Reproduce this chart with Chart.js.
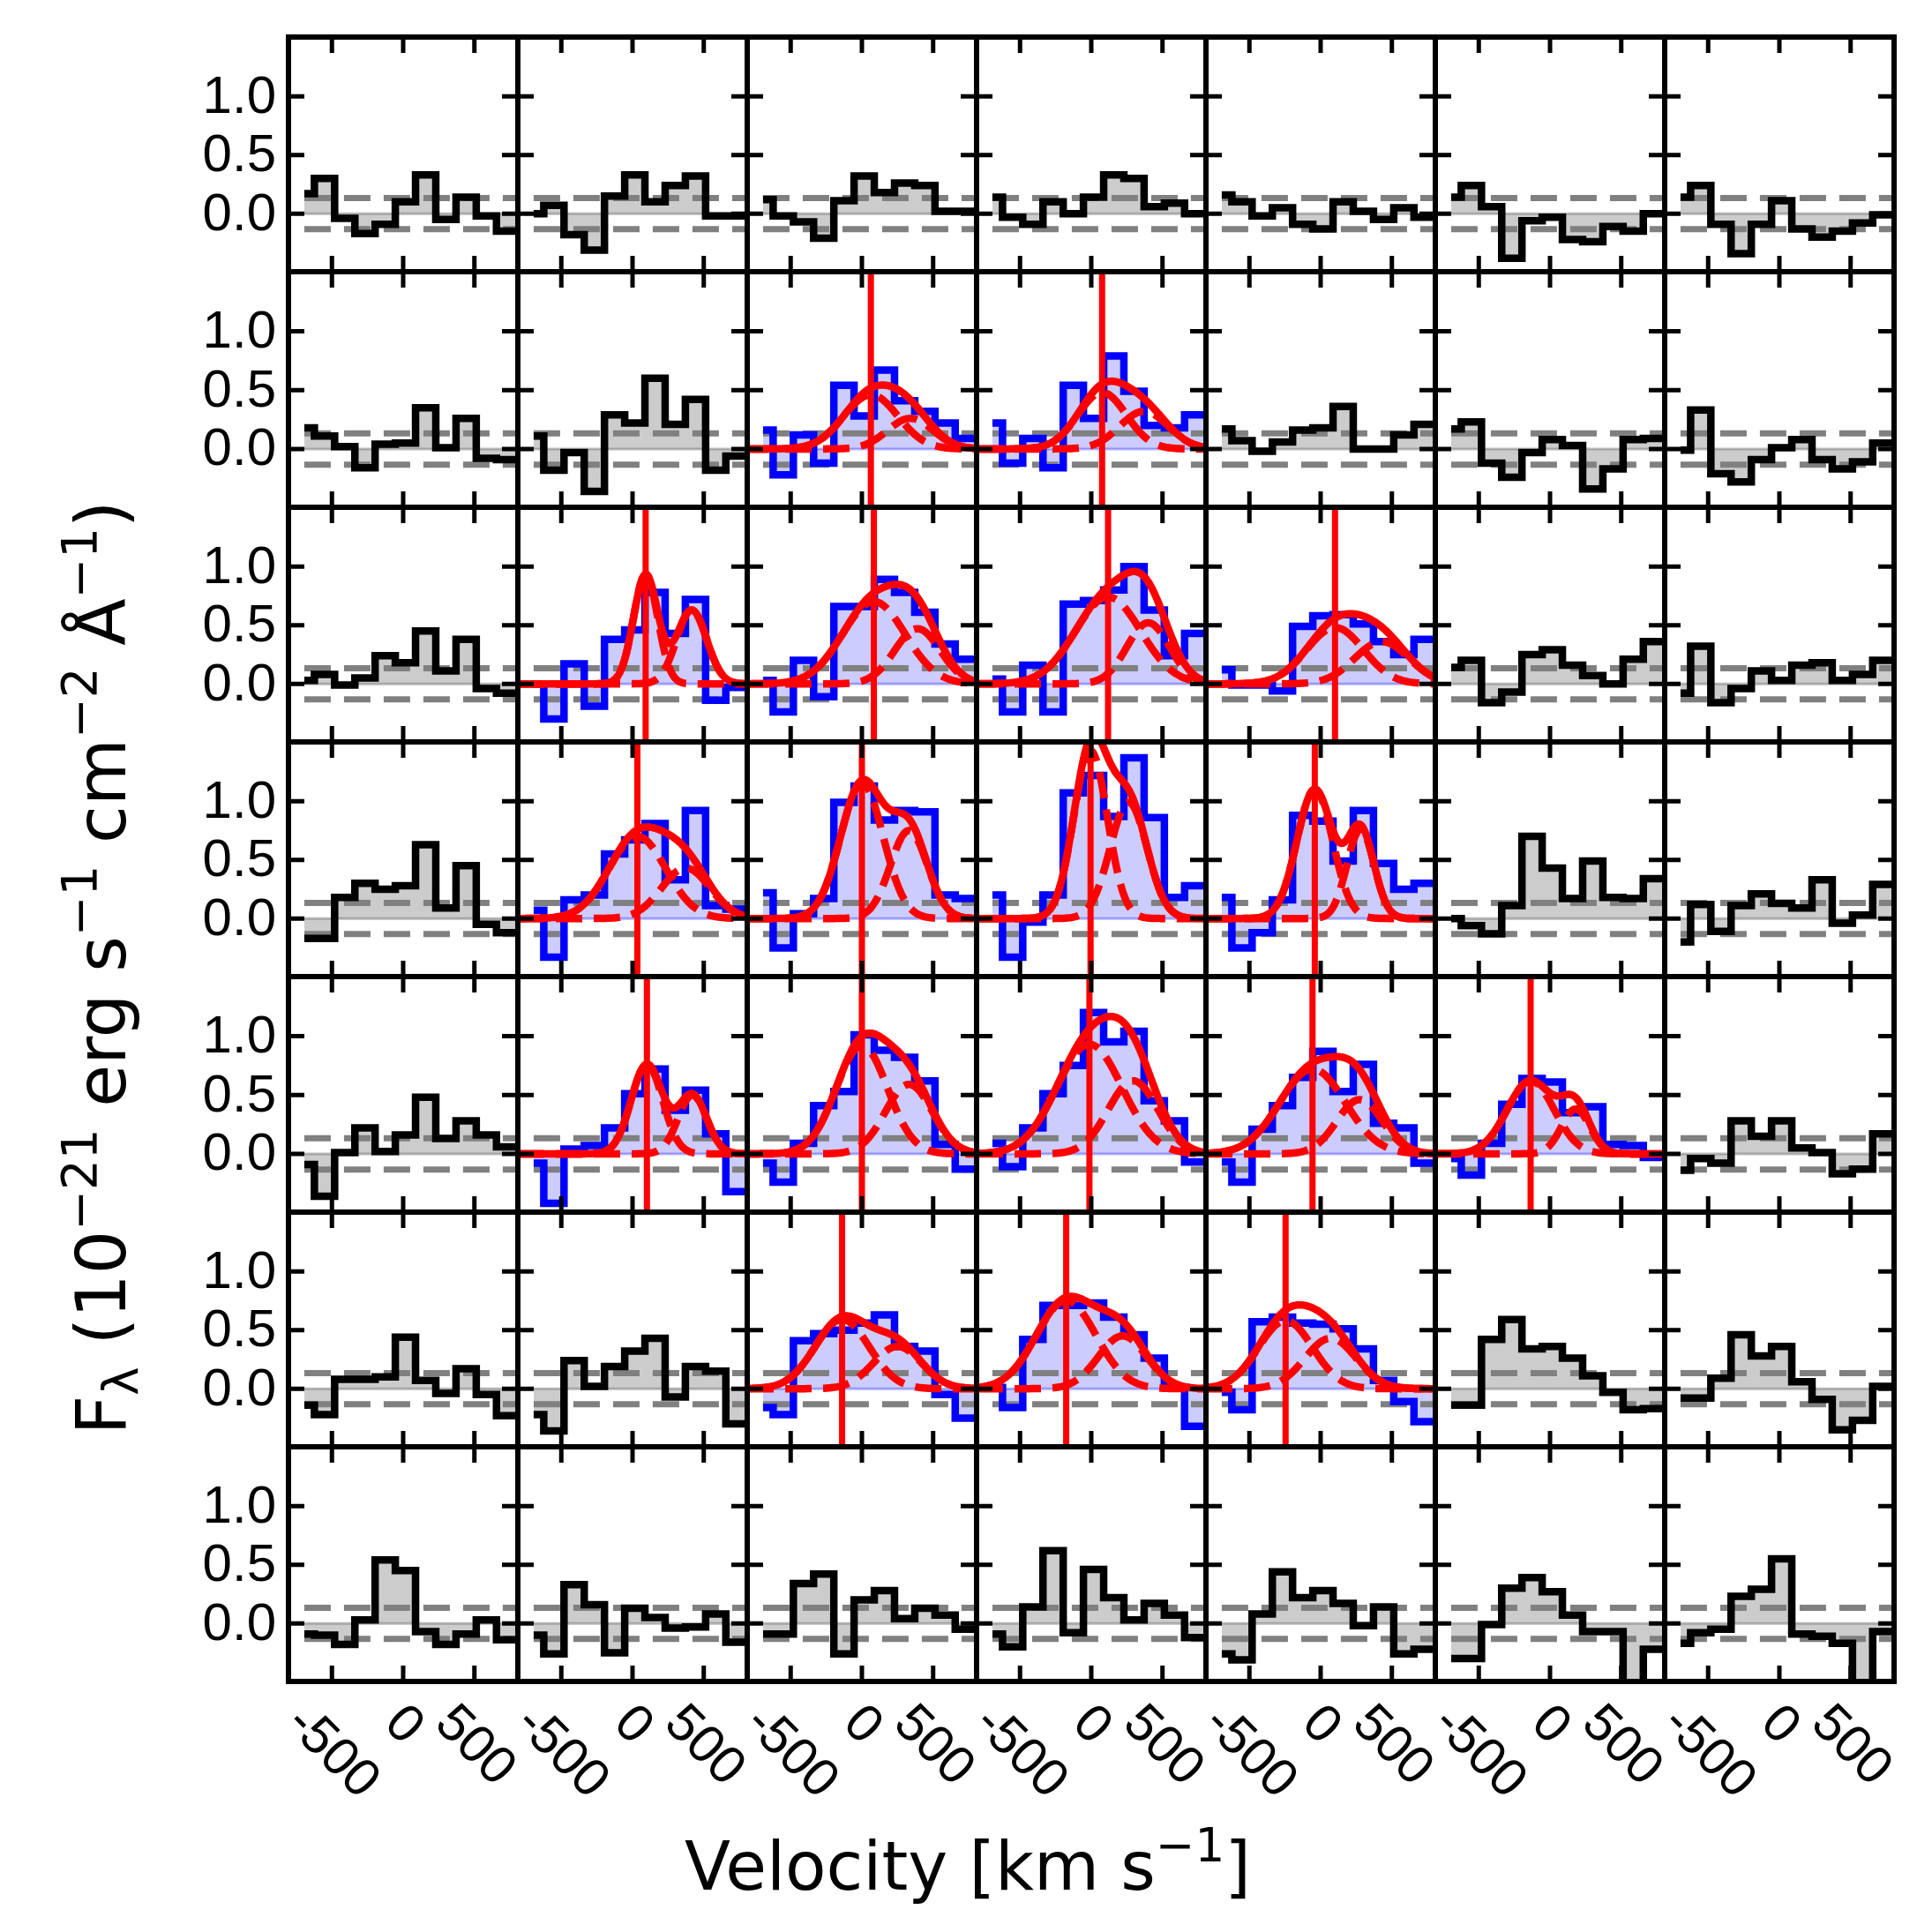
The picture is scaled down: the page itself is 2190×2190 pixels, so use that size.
<!DOCTYPE html>
<html>
<head>
<meta charset="utf-8">
<script src="https://cdn.jsdelivr.net/npm/chart.js@4.4.0/dist/chart.umd.min.js"></script>
<style>
  body { margin: 0; background: #fff; }
  #fig { position: relative; width: 2190px; height: 2190px; background: #fff; overflow: hidden; }
  #fig canvas { position: absolute; }
  .label { position: absolute; font-family: 'DejaVu Sans', sans-serif; color: #000; white-space: nowrap; line-height: 1; }
  .label sup { font-size: 70%; vertical-align: 0.6em; line-height: 0; }
  .label sub { font-size: 70%; vertical-align: -0.25em; line-height: 0; }
  #xlabel { left: 1097px; top: 2078px; font-size: 76px; transform: translateX(-50%); }
  #ylabel { left: 115px; top: 1097px; font-size: 78px; transform: translate(-50%, -50%) rotate(-90deg); }
</style>
</head>
<body>
<div id="fig">
  <div class="label" id="xlabel">Velocity [km s<sup>−1</sup>]</div>
  <div class="label" id="ylabel">F<sub>λ</sub> (10<sup>−21</sup> erg s<sup>−1</sup> cm<sup>−2</sup> Å<sup>−1</sup>)</div>
</div>
<script>
// velocity bin centres (km/s), shared by every spaxel
const velocity = [-694, -552, -410, -268, -126, 16, 158, 300, 442, 584, 726, 868];
const xTicks = [-500, 0, 500];
const yTicks = [0.0, 0.5, 1.0];
const noiseLevel = 0.133;

// flux per spaxel, one array per row of the grid (left to right)
const fluxRow1 = [
  [0.17, 0.30, -0.04, -0.17, -0.09, 0.10, 0.33, -0.05, 0.14, -0.02, -0.15, -0.15],
  [0.00, 0.07, -0.18, -0.31, 0.15, 0.33, 0.10, 0.24, 0.32, -0.02, -0.02, -0.02],
  [0.12, -0.02, -0.07, -0.21, 0.11, 0.32, 0.18, 0.26, 0.24, 0.02, 0.02, 0.02],
  [0.14, -0.03, -0.09, 0.10, 0.00, 0.14, 0.33, 0.30, 0.06, 0.09, 0.00, 0.00],
  [0.16, 0.10, -0.02, 0.05, -0.09, -0.13, 0.10, 0.02, -0.05, 0.05, -0.03, -0.03],
  [0.14, 0.24, 0.06, -0.38, -0.06, -0.03, -0.22, -0.24, -0.11, -0.15, 0.00, 0.00],
  [0.14, 0.24, -0.09, -0.34, -0.09, 0.11, -0.13, -0.20, -0.15, -0.08, -0.01, -0.01]
];
const fluxRow2 = [
  [0.18, 0.11, 0.02, -0.16, 0.04, 0.05, 0.35, 0.01, 0.26, -0.08, -0.09, -0.09],
  [0.11, -0.18, -0.03, -0.36, 0.29, 0.22, 0.60, 0.21, 0.42, -0.18, -0.06, -0.06],
  [0.16, -0.22, 0.12, -0.12, 0.54, 0.28, 0.67, 0.41, 0.32, 0.22, 0.09, 0.09],
  [0.22, -0.12, 0.09, -0.16, 0.54, 0.26, 0.79, 0.49, 0.20, 0.18, 0.29, 0.29],
  [0.17, 0.07, -0.02, 0.06, 0.16, 0.18, 0.36, 0.00, 0.00, 0.12, 0.21, 0.21],
  [0.17, 0.23, -0.12, -0.24, -0.03, 0.08, 0.03, -0.34, -0.17, 0.08, 0.09, 0.09],
  [-0.01, 0.33, -0.21, -0.28, -0.09, 0.01, 0.08, -0.09, -0.17, -0.11, 0.05, 0.05]
];
const fluxRow3 = [
  [0.03, 0.08, -0.01, 0.05, 0.24, 0.18, 0.45, 0.11, 0.38, -0.04, -0.08, -0.08],
  [0.00, -0.30, 0.17, -0.19, 0.38, 0.46, 0.78, 0.43, 0.72, -0.14, -0.03, -0.03],
  [0.03, -0.24, 0.20, -0.11, 0.66, 0.66, 0.89, 0.78, 0.61, 0.34, 0.21, 0.21],
  [0.04, -0.24, 0.16, -0.24, 0.68, 0.71, 0.80, 1.00, 0.63, 0.24, 0.43, 0.43],
  [0.12, -0.01, -0.01, -0.06, 0.49, 0.58, 0.59, 0.51, 0.36, 0.25, 0.38, 0.38],
  [0.14, 0.20, -0.16, -0.07, 0.25, 0.29, 0.16, 0.07, 0.00, 0.21, 0.36, 0.36],
  [-0.08, 0.32, -0.16, -0.04, 0.11, 0.03, 0.16, 0.18, 0.03, 0.08, 0.20, 0.20]
];
const fluxRow4 = [
  [-0.17, -0.17, 0.18, 0.30, 0.25, 0.28, 0.63, 0.09, 0.45, -0.05, -0.12, -0.12],
  [0.07, -0.33, 0.16, 0.20, 0.55, 0.67, 0.81, 0.33, 0.92, 0.11, 0.08, 0.08],
  [0.22, -0.25, 0.04, 0.17, 0.99, 1.13, 0.84, 0.92, 0.91, 0.20, 0.17, 0.17],
  [0.20, -0.33, -0.03, 0.20, 1.07, 1.22, 0.87, 1.37, 0.86, 0.18, 0.28, 0.28],
  [0.18, -0.25, -0.12, 0.16, 0.88, 0.83, 0.49, 0.92, 0.47, 0.25, 0.30, 0.30],
  [0.00, -0.06, -0.13, 0.11, 0.70, 0.43, 0.17, 0.49, 0.18, 0.17, 0.34, 0.34],
  [-0.20, 0.12, -0.11, 0.11, 0.21, 0.13, 0.09, 0.33, -0.04, 0.03, 0.29, 0.29]
];
const fluxRow5 = [
  [-0.09, -0.36, 0.01, 0.22, 0.02, 0.16, 0.48, 0.13, 0.28, 0.16, 0.06, 0.06],
  [-0.08, -0.42, 0.04, 0.07, 0.22, 0.51, 0.72, 0.37, 0.54, 0.17, -0.32, -0.32],
  [-0.08, -0.24, 0.09, 0.41, 0.53, 1.01, 0.88, 0.82, 0.62, 0.08, -0.13, -0.13],
  [0.09, -0.11, 0.22, 0.51, 0.75, 1.20, 0.95, 1.04, 0.45, 0.28, -0.07, -0.07],
  [-0.07, -0.24, 0.21, 0.41, 0.65, 0.87, 0.53, 0.76, 0.26, 0.22, -0.08, -0.08],
  [-0.04, -0.18, 0.09, 0.42, 0.64, 0.61, 0.35, 0.40, 0.08, 0.07, -0.03, -0.03],
  [-0.14, -0.04, -0.08, 0.28, 0.15, 0.28, 0.05, 0.01, -0.17, -0.13, 0.17, 0.17]
];
const fluxRow6 = [
  [-0.14, -0.22, 0.08, 0.08, 0.10, 0.44, 0.07, -0.04, 0.17, -0.05, -0.23, -0.23],
  [-0.22, -0.36, 0.24, 0.02, 0.19, 0.32, 0.43, -0.07, 0.19, 0.15, -0.30, -0.30],
  [-0.16, -0.22, 0.41, 0.47, 0.50, 0.56, 0.63, 0.36, 0.32, -0.05, -0.25, -0.25],
  [0.01, -0.16, 0.42, 0.71, 0.71, 0.73, 0.61, 0.46, 0.26, 0.01, -0.32, -0.32],
  [-0.03, -0.18, 0.57, 0.61, 0.56, 0.55, 0.51, 0.34, 0.07, -0.11, -0.28, -0.28],
  [-0.14, -0.14, 0.42, 0.59, 0.34, 0.36, 0.26, 0.11, -0.03, -0.18, -0.17, -0.17],
  [-0.08, -0.08, 0.09, 0.46, 0.28, 0.36, 0.06, -0.09, -0.35, -0.27, 0.02, 0.02]
];
const fluxRow7 = [
  [-0.09, -0.10, -0.18, 0.03, 0.54, 0.45, -0.07, -0.18, -0.09, 0.03, -0.14, -0.14],
  [-0.10, -0.26, 0.33, 0.16, -0.25, 0.13, 0.05, -0.04, -0.03, 0.08, -0.16, -0.16],
  [-0.09, -0.09, 0.34, 0.42, -0.26, 0.20, 0.28, 0.04, 0.13, 0.07, -0.05, -0.05],
  [-0.09, -0.20, 0.14, 0.62, -0.08, 0.46, 0.22, 0.03, 0.17, 0.07, -0.12, -0.12],
  [-0.26, -0.31, 0.08, 0.44, 0.22, 0.28, 0.17, -0.02, 0.14, -0.26, -0.22, -0.22],
  [-0.30, -0.30, -0.01, 0.30, 0.39, 0.27, 0.07, -0.07, -0.07, -0.55, -0.22, -0.22],
  [-0.17, -0.08, -0.05, 0.23, 0.29, 0.55, -0.09, -0.11, -0.17, -0.55, -0.07, -0.07]
];
const fluxRows = [fluxRow1, fluxRow2, fluxRow3, fluxRow4, fluxRow5, fluxRow6, fluxRow7];

// spaxels with a two-Gaussian fit: [row, col] (1-based)
const fitCells = [[2,3],[2,4],[3,2],[3,3],[3,4],[3,5],[4,2],[4,3],[4,4],[4,5],
                  [5,2],[5,3],[5,4],[5,5],[5,6],[6,3],[6,4],[6,5]];
// velocity of the vertical marker (km/s)
const vLine = [63, 76, 92, 84, 118, 101, 34, 0, -5, -41, 101, 0, -13, -57, -136, -139, -176, -246];
// Gaussian components: [amplitude, centre km/s, sigma km/s]
const comp1 = [[0.46,63,190],[0.48,76,170],[0.93,92,85],[0.70,84,220],[0.74,118,230],[0.48,101,200],
               [0.70,34,200],[1.15,0,150],[1.43,-5,118],[1.10,-41,125],[0.76,101,110],[0.92,0,180],
               [0.93,-13,230],[0.72,-57,230],[0.62,-136,165],[0.59,-139,190],[0.75,-176,210],[0.58,-246,190]];
const comp2 = [[0.26,340,160],[0.32,370,170],[0.63,415,105],[0.47,390,160],[0.52,400,150],[0.36,430,190],
               [0.43,374,170],[0.75,330,130],[0.99,262,130],[0.76,280,95],[0.50,420,100],[0.59,330,165],
               [0.62,294,175],[0.46,274,160],[0.38,180,100],[0.36,250,170],[0.45,220,170],[0.43,70,180]];

const xMin = -805, xMax = 805, yMin = -0.495, yMax = 1.505;

const modelVel = [];
for (let v = xMin; v <= xMax; v += 10) modelVel.push(v);
function gauss(p, v) { return p[0] * Math.exp(-0.5 * Math.pow((v - p[1]) / p[2], 2)); }

const fig = document.getElementById('fig');
const gridLeft = 327, gridTop = 42, panelW = 260, panelH = 266.3;
const margin = 8, labelRoom = 170;

const panelFrame = {
  id: 'panelFrame',
  afterDatasetsDraw(chart, args, opts) {
    const { ctx, chartArea: a } = chart;
    const x = chart.scales.x, y = chart.scales.y;
    ctx.save();
    ctx.strokeStyle = '#000';
    ctx.lineWidth = 5;
    ctx.beginPath();
    xTicks.forEach(v => {
      const px = x.getPixelForValue(v);
      ctx.moveTo(px, a.bottom); ctx.lineTo(px, a.bottom - 18);
      ctx.moveTo(px, a.top); ctx.lineTo(px, a.top + 18);
    });
    yTicks.forEach(v => {
      const py = y.getPixelForValue(v);
      ctx.moveTo(a.left, py); ctx.lineTo(a.left + 18, py);
      ctx.moveTo(a.right, py); ctx.lineTo(a.right - 18, py);
    });
    ctx.stroke();
    ctx.lineWidth = 6;
    ctx.strokeRect(a.left, a.top, a.right - a.left, a.bottom - a.top);

    ctx.fillStyle = '#000';
    ctx.font = "60px 'Liberation Sans Narrow', 'Liberation Sans', sans-serif";
    if (opts.left) {
      ctx.textAlign = 'right';
      ctx.textBaseline = 'middle';
      yTicks.forEach(v => ctx.fillText(v.toFixed(1), a.left - 14, y.getPixelForValue(v) + 2));
    }
    if (opts.bottom) {
      ctx.textAlign = 'center';
      ctx.textBaseline = 'middle';
      xTicks.forEach(v => {
        const s = String(v);
        const w = ctx.measureText(s).width;
        const half = (w + 43) / (2 * Math.SQRT2);
        ctx.save();
        ctx.translate(x.getPixelForValue(v), a.bottom + 23 + half);
        ctx.rotate(Math.PI / 4);
        ctx.fillText(s, 0, 0);
        ctx.restore();
      });
    }
    ctx.restore();
  }
};

function fitIndex(r, c) {
  return fitCells.findIndex(fc => fc[0] === r && fc[1] === c);
}

function makePanel(r, c) {
  const vals = fluxRows[r - 1][c - 1];
  const k = fitIndex(r, c);
  const fitted = k >= 0;
  const isLeft = c === 1, isBottom = r === 7;

  const x0 = Math.round(gridLeft + (c - 1) * panelW), x1 = Math.round(gridLeft + c * panelW);
  const y0 = Math.round(gridTop + (r - 1) * panelH), y1 = Math.round(gridTop + r * panelH);
  const padL = margin + (isLeft ? labelRoom : 0);
  const padB = margin + (isBottom ? labelRoom : 0);
  const W = (x1 - x0) + padL + margin;
  const H = (y1 - y0) + margin + padB;

  const canvas = document.createElement('canvas');
  canvas.width = W; canvas.height = H;
  canvas.style.width = W + 'px'; canvas.style.height = H + 'px';
  canvas.style.left = (x0 - padL) + 'px';
  canvas.style.top = (y0 - margin) + 'px';
  fig.appendChild(canvas);

  const lineColor = fitted ? '#0000ff' : '#000000';
  const fillColor = fitted ? 'rgba(0,0,255,0.2)' : 'rgba(128,128,128,0.4)';
  const baseColor = fitted ? 'rgba(0,0,255,0.3)' : 'rgba(128,128,128,0.55)';

  const datasets = [
    {
      label: 'flux', data: velocity.map((v, i) => ({ x: v, y: vals[i] })),
      stepped: 'middle', borderColor: lineColor, borderWidth: 8.5, borderJoinStyle: 'miter',
      fill: 'origin', backgroundColor: fillColor, order: 3
    },
    {
      label: 'zero', data: velocity.map(v => ({ x: v, y: 0 })),
      borderColor: baseColor, borderWidth: 3, fill: false, order: 5
    },
    {
      label: 'noise+', data: velocity.map(v => ({ x: v, y: noiseLevel })),
      borderColor: '#808080', borderWidth: 7, borderDash: [30, 15], fill: false, order: 4
    },
    {
      label: 'noise-', data: velocity.map(v => ({ x: v, y: -noiseLevel })),
      borderColor: '#808080', borderWidth: 7, borderDash: [30, 15], fill: false, order: 4
    }
  ];

  if (fitted) {
    const p1 = comp1[k], p2 = comp2[k];
    datasets.push(
      {
        label: 'comp1', data: modelVel.map(v => ({ x: v, y: gauss(p1, v) })),
        borderColor: '#ff0000', borderWidth: 8.5, borderDash: [30, 13], fill: false, order: 2
      },
      {
        label: 'comp2', data: modelVel.map(v => ({ x: v, y: gauss(p2, v) })),
        borderColor: '#ff0000', borderWidth: 8.5, borderDash: [30, 13], fill: false, order: 2
      },
      {
        label: 'total', data: modelVel.map(v => ({ x: v, y: gauss(p1, v) + gauss(p2, v) })),
        borderColor: '#ff0000', borderWidth: 8.5, fill: false, order: 1
      },
      {
        label: 'centre', data: [{ x: vLine[k], y: yMin }, { x: vLine[k], y: yMax }],
        borderColor: '#ff0000', borderWidth: 7, fill: false, order: 0
      }
    );
  }
  datasets.forEach(d => { d.pointRadius = 0; d.clip = 0; });

  new Chart(canvas, {
    type: 'line',
    data: { datasets },
    options: {
      responsive: false,
      animation: false,
      devicePixelRatio: 1,
      events: [],
      layout: { padding: { left: padL, right: margin, top: margin, bottom: padB } },
      scales: {
        x: { type: 'linear', min: xMin, max: xMax, display: false },
        y: { type: 'linear', min: yMin, max: yMax, display: false }
      },
      plugins: {
        legend: { display: false },
        tooltip: { enabled: false },
        filler: { drawTime: 'beforeDatasetsDraw' },
        panelFrame: { left: isLeft, bottom: isBottom }
      }
    },
    plugins: [panelFrame]
  });
}

for (let r = 1; r <= 7; r++) {
  for (let c = 1; c <= 7; c++) makePanel(r, c);
}
</script>
</body>
</html>
